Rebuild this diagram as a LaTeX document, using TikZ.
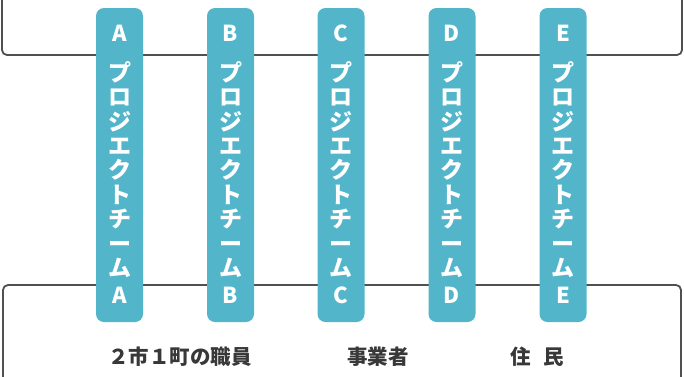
\documentclass[tikz,border=0pt]{standalone}
\usepackage{fontspec}
\newfontfamily\jp{Noto Sans CJK JP}
\definecolor{pillc}{HTML}{52B5CA}
\definecolor{framec}{HTML}{505050}
\definecolor{txtc}{HTML}{383838}
\tikzset{
  frameline/.style={draw=framec, line width=1.8pt, rounded corners=5pt},
  pillbox/.style={fill=pillc, rounded corners=8pt, minimum width=47pt, minimum height=314pt, inner sep=0pt},
  letter/.style={text=white, inner sep=0pt, font=\jp\bfseries\fontsize{22}{22}\selectfont},
  kana/.style={text=white, inner sep=0pt, align=center, font=\jp\bfseries\fontsize{23}{24.4}\selectfont},
  group/.style={text=txtc, inner sep=0pt, font=\jp\bfseries\fontsize{20.5}{20.5}\selectfont}
}
\begin{document}
\begin{tikzpicture}[x=1pt,y=-1pt]
\useasboundingbox (0,0) rectangle (684,376);
% frames
\draw[frameline] (2,-30) -- (2,55) -- (682,55) -- (682,-30);
\draw[frameline] (3,400) -- (3,285) -- (681,285) -- (681,400);
% project teams
\foreach \x/\l in {119.5/A,230.5/B,341/C,452/D,563/E}{
  \node[pillbox] (p\l) at (\x,165) {};
  \node[letter] (top\l) at (\x,33) {\l};
  \node[kana] (k\l) at (\x,169.5) {プ\\ロ\\ジ\\エ\\ク\\ト\\チ\\ー\\ム};
  \node[letter] (bot\l) at (\x,295) {\l};
}
% groups
\node[group] (g1) at (180,357) {２市１町の職員};
\node[group] (g2) at (378,357) {事業者};
\node[group] (g3) at (537,357) {\spaceskip=12pt 住 民};
\end{tikzpicture}
\end{document}
